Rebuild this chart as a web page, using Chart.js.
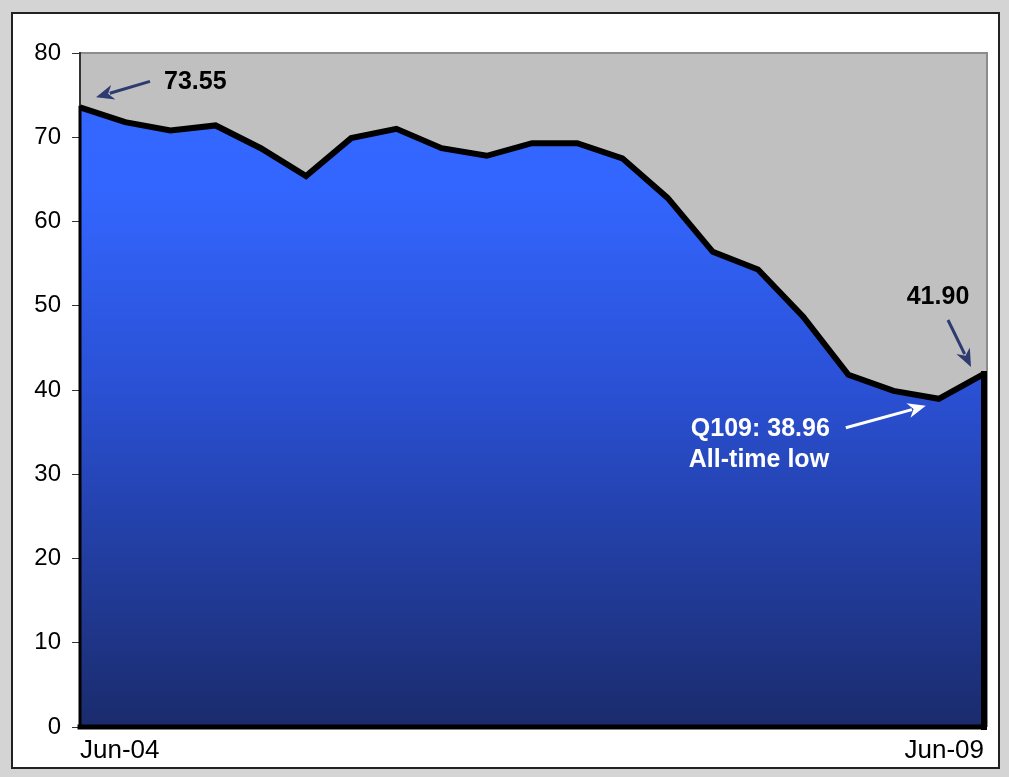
<!DOCTYPE html>
<html>
<head>
<meta charset="utf-8">
<script src="https://cdn.jsdelivr.net/npm/chart.js@4.4.1/dist/chart.umd.min.js"></script>
<style>
  html, body { margin: 0; padding: 0; background: #d4d4d4; }
  canvas { display: block; }
</style>
</head>
<body>
<canvas id="ratioChart" width="1009" height="777"></canvas>
<script>
"use strict";

// Quarterly readings, Jun-04 .. Jun-09
const quarters = [
  'Jun-04', 'Sep-04', 'Dec-04', 'Mar-05', 'Jun-05', 'Sep-05', 'Dec-05',
  'Mar-06', 'Jun-06', 'Sep-06', 'Dec-06', 'Mar-07', 'Jun-07', 'Sep-07',
  'Dec-07', 'Mar-08', 'Jun-08', 'Sep-08', 'Dec-08', 'Mar-09', 'Jun-09'
];
const values = [
  73.55, 71.8, 70.8, 71.4, 68.7, 65.4, 69.9,
  71.0, 68.7, 67.8, 69.3, 69.3, 67.5, 62.8,
  56.4, 54.3, 48.7, 41.8, 39.9, 38.96, 41.90
];
const shownLabels = ['Jun-04', 'Jun-09'];
const yTicks = { min: 0, max: 80, step: 10 };

const FONT = '"Liberation Sans", Arial, sans-serif';
const NAVY = '#2d3b70';

// index of the low point that gets its own callout
const lowIdx = values.indexOf(Math.min(...values));

const drawArrow = (ctx, x1, y1, x2, y2, color) => {
  const ang = Math.atan2(y2 - y1, x2 - x1);
  const head = 18, half = 7.5;
  ctx.save();
  ctx.strokeStyle = color;
  ctx.fillStyle = color;
  ctx.lineWidth = 3;
  ctx.beginPath();
  ctx.moveTo(x1, y1);
  ctx.lineTo(x2 - Math.cos(ang) * head * 0.8, y2 - Math.sin(ang) * head * 0.8);
  ctx.stroke();
  ctx.beginPath();
  ctx.moveTo(x2, y2);
  ctx.lineTo(x2 - Math.cos(ang) * head - Math.sin(ang) * half, y2 - Math.sin(ang) * head + Math.cos(ang) * half);
  ctx.lineTo(x2 - Math.cos(ang) * head * 0.7, y2 - Math.sin(ang) * head * 0.7);
  ctx.lineTo(x2 - Math.cos(ang) * head + Math.sin(ang) * half, y2 - Math.sin(ang) * head - Math.cos(ang) * half);
  ctx.closePath();
  ctx.fill();
  ctx.restore();
};

// page frame + grey plot background
const framePlugin = {
  id: 'framePlugin',
  beforeDraw: (chart) => {
    const { ctx, chartArea: a } = chart;
    ctx.save();
    ctx.fillStyle = '#d4d4d4';
    ctx.fillRect(0, 0, chart.width, chart.height);
    ctx.fillStyle = '#ffffff';
    ctx.fillRect(12, 13, 987, 755);
    ctx.strokeStyle = '#222222';
    ctx.lineWidth = 2;
    ctx.strokeRect(12, 13, 987, 755);
    ctx.fillStyle = '#c0c0c0';
    ctx.fillRect(a.left, a.top, a.right - a.left + 3, a.bottom - a.top);
    ctx.strokeStyle = '#8c8c8c';
    ctx.lineWidth = 2;
    ctx.beginPath();
    ctx.moveTo(a.left, a.top);
    ctx.lineTo(a.right + 3, a.top);
    ctx.lineTo(a.right + 3, a.bottom);
    ctx.stroke();
    ctx.restore();
  }
};

// black edges round the filled area + callouts
const areaEdgePlugin = {
  id: 'areaEdgePlugin',
  afterDatasetsDraw: (chart) => {
    const { ctx } = chart;
    const pts = chart.getDatasetMeta(0).data;
    const first = pts[0], last = pts[pts.length - 1];
    const base = chart.scales.y.getPixelForValue(0);
    ctx.save();
    ctx.strokeStyle = '#000000';
    ctx.lineCap = 'square';
    ctx.lineWidth = 3;
    ctx.beginPath();
    ctx.moveTo(first.x, first.y);
    ctx.lineTo(first.x, base);
    ctx.stroke();
    ctx.lineWidth = 5;
    ctx.beginPath();
    ctx.moveTo(first.x, base);
    ctx.lineTo(last.x, base);
    ctx.stroke();
    ctx.lineWidth = 6;
    ctx.beginPath();
    ctx.moveTo(last.x, last.y);
    ctx.lineTo(last.x, base);
    ctx.stroke();
    ctx.restore();
  },
  afterDraw: (chart) => {
    const { ctx } = chart;
    const pts = chart.getDatasetMeta(0).data;
    const first = pts[0], last = pts[pts.length - 1], low = pts[lowIdx];
    ctx.save();
    ctx.font = `bold 25px ${FONT}`;
    ctx.textBaseline = 'middle';

    // opening value
    ctx.fillStyle = '#000000';
    ctx.textAlign = 'left';
    ctx.fillText(values[0].toFixed(2), first.x + 84, first.y - 25);
    drawArrow(ctx, first.x + 70, first.y - 26, first.x + 16, first.y - 10, NAVY);

    // latest value
    ctx.textAlign = 'center';
    ctx.fillText(values[values.length - 1].toFixed(2), last.x - 46, last.y - 77);
    drawArrow(ctx, last.x - 36, last.y - 54, last.x - 13, last.y - 7, NAVY);

    // all-time low
    ctx.fillStyle = '#ffffff';
    ctx.textAlign = 'left';
    ctx.fillText(`Q109: ${values[lowIdx].toFixed(2)}`, low.x - 248, low.y + 30);
    ctx.fillText('All-time low', low.x - 250, low.y + 61);
    drawArrow(ctx, low.x - 93, low.y + 29, low.x - 13, low.y + 7, '#ffffff');
    ctx.restore();
  }
};

const ctxRatio = document.getElementById('ratioChart');
new Chart(ctxRatio, {
  type: 'line',
  data: {
    labels: quarters,
    datasets: [{
      data: values,
      borderColor: '#000000',
      borderWidth: 6,
      borderJoinStyle: 'miter',
      pointRadius: 0,
      tension: 0,
      fill: 'origin',
      backgroundColor: (context) => {
        const area = context.chart.chartArea;
        if (!area) return '#3366ff';
        const g = context.chart.ctx.createLinearGradient(0, area.top, 0, area.bottom);
        g.addColorStop(0, '#3468ff');
        g.addColorStop(0.2, '#3366ff');
        g.addColorStop(0.5, '#2a50d4');
        g.addColorStop(1, '#1a2b6c');
        return g;
      }
    }]
  },
  options: {
    responsive: false,
    devicePixelRatio: 1,
    animation: false,
    layout: { padding: { left: 0, right: 25, top: 53, bottom: 0 } },
    plugins: {
      legend: { display: false },
      tooltip: { enabled: false }
    },
    scales: {
      x: {
        offset: false,
        grid: { display: false },
        border: { display: false },
        afterFit: (scale) => { scale.height = 50; },
        ticks: {
          autoSkip: false,
          maxRotation: 0,
          align: 'inner',
          padding: 0,
          color: '#000000',
          font: { family: FONT, size: 26 },
          callback: (val, i) => shownLabels.includes(quarters[i]) ? quarters[i] : ''
        }
      },
      y: {
        min: yTicks.min,
        max: yTicks.max,
        afterFit: (scale) => { scale.width = 80; },
        grid: {
          drawOnChartArea: false,
          tickLength: 8,
          color: '#333333',
          lineWidth: 1
        },
        border: { display: true, color: '#333333', width: 2 },
        ticks: {
          stepSize: yTicks.step,
          padding: 11,
          color: '#000000',
          font: { family: FONT, size: 24 }
        }
      }
    }
  },
  plugins: [framePlugin, areaEdgePlugin]
});
</script>
</body>
</html>
